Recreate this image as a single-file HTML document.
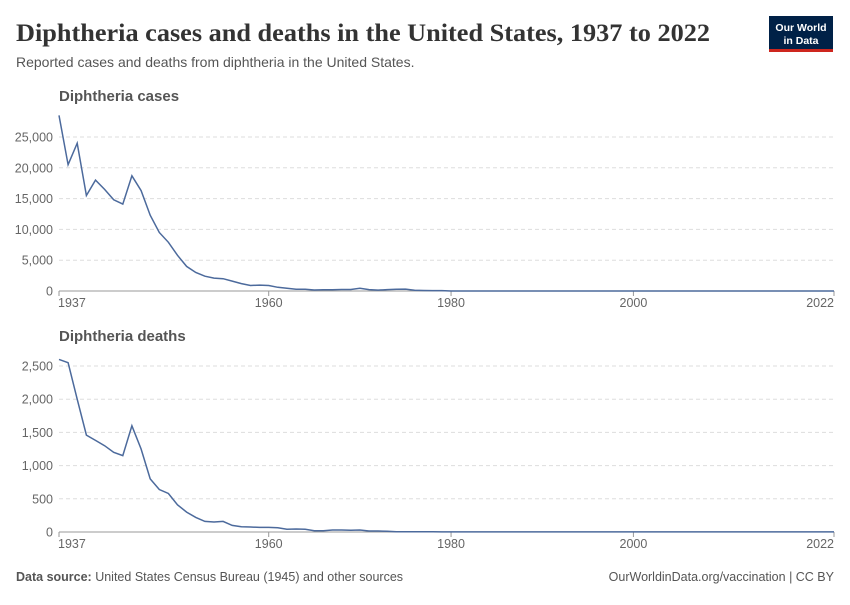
<!DOCTYPE html>
<html><head><meta charset="utf-8"><style>
body{margin:0;width:850px;height:600px;background:#fff;font-family:"Liberation Sans",sans-serif;overflow:hidden}
</style></head><body>
<svg id="s" width="850" height="600" xmlns="http://www.w3.org/2000/svg" font-family="Liberation Sans, sans-serif">
<text x="16" y="41" font-family="Liberation Serif, serif" font-size="25.5" font-weight="bold" fill="#333" textLength="694" lengthAdjust="spacingAndGlyphs">Diphtheria cases and deaths in the United States, 1937 to 2022</text>
<text x="16" y="67" font-size="14" fill="#555">Reported cases and deaths from diphtheria in the United States.</text>
<rect x="769" y="16" width="64" height="36" fill="#002147"/>
<rect x="769" y="49" width="64" height="3" fill="#ce261e"/>
<text x="801" y="31" font-size="10.5" fill="#fff" text-anchor="middle" font-weight="bold">Our World</text>
<text x="801" y="44" font-size="10.5" fill="#fff" text-anchor="middle" font-weight="bold">in Data</text>
<text x="59" y="101" font-size="15" font-weight="bold" fill="#555">Diphtheria cases</text>
<text x="59" y="341" font-size="15" font-weight="bold" fill="#555">Diphtheria deaths</text>
<text x="16" y="581" font-size="12.5" fill="#555"><tspan font-weight="bold">Data source:</tspan> United States Census Bureau (1945) and other sources</text>
<text x="834" y="581" font-size="12.5" fill="#555" text-anchor="end">OurWorldinData.org/vaccination | CC BY</text>
<g id="g"></g>
</svg>
<script>
var g=document.getElementById('g'),h='';
function X(y){return 59+(y-1937)*775/85;}
var cases=[28500,20500,24000,15500,18000,16500,14800,14100,18700,16300,12300,9500,7900,5800,4000,3000,2400,2100,2000,1600,1200,900,950,900,600,450,300,300,160,200,200,250,240,440,220,150,230,270,310,130,80,70,60,5];
var deaths=[2600,2550,2000,1460,1380,1300,1200,1150,1600,1250,800,640,580,410,300,220,160,150,160,100,80,75,70,70,65,40,45,40,20,20,30,30,25,30,15,15,10,5,5,5,5,5,1];
function chart(data,y0,step,unit,n,fmt){
 for(var i=0;i<=n;i++){var y=y0-i*step;
  if(i>0)h+='<line x1="59" x2="834" y1="'+y+'" y2="'+y+'" stroke="#ddd" stroke-dasharray="4,3"/>';
  h+='<text x="53" y="'+(y+4.5)+'" font-size="12.5" fill="#666" text-anchor="end">'+fmt(i*unit)+'</text>';}
 h+='<line x1="59" x2="834" y1="'+y0+'" y2="'+y0+'" stroke="#999"/>';
 [1937,1960,1980,2000,2022].forEach(function(yr){var x=X(yr);
  h+='<line x1="'+x+'" x2="'+x+'" y1="'+y0+'" y2="'+(y0+5)+'" stroke="#999"/>';
  h+='<text x="'+(yr==1937?x-1:x)+'" y="'+(y0+16)+'" font-size="12.5" fill="#666" text-anchor="'+(yr==1937?'start':yr==2022?'end':'middle')+'">'+yr+'</text>';});
 var p=[];for(var yr=1937;yr<=2022;yr++){var v=yr-1937<data.length?data[yr-1937]:1;p.push(X(yr).toFixed(1)+','+(y0-v/unit*step).toFixed(1));}
 h+='<polyline points="'+p.join(' ')+'" fill="none" stroke="#4c6a9c" stroke-width="1.5"/>';
}
function f(v){return v.toLocaleString('en-US');}
chart(cases,291,30.8,5000,5,f);
chart(deaths,532,33.2,500,5,f);
g.innerHTML=h;
</script>
</body></html>
